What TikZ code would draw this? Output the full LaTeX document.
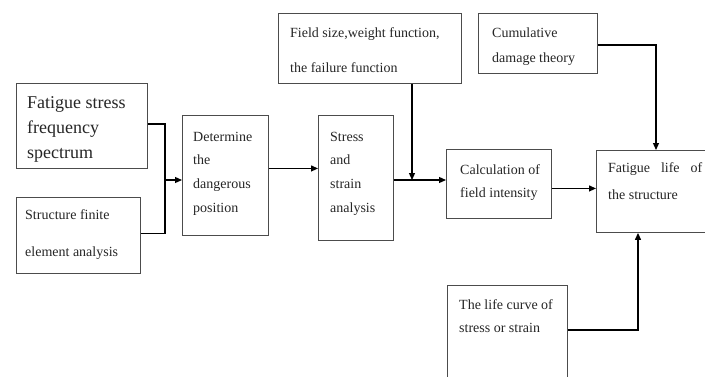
\documentclass[tikz,border=0pt]{standalone}
\usepackage{fontspec}
\setmainfont{Liberation Serif}
\usetikzlibrary{arrows.meta}
\tikzset{
  box/.style={draw=black!70, line width=0.9pt, rectangle, inner sep=0pt, anchor=north west},
  conn/.style={draw=black, line width=1.2pt},
  arr/.style={conn, -{Triangle[length=7pt,width=6pt]}},
  txt/.style={anchor=base west, inner sep=0pt, text=black!85}
}
\newcommand{\fs}[2]{\fontsize{#1}{#2}\selectfont}
\begin{document}
\begin{tikzpicture}[x=1pt,y=-1pt]
\useasboundingbox (0,0) rectangle (705,376);
\clip (0,0) rectangle (705,376);
\fill[white] (0,0) rectangle (705,376);
% boxes
\node[box, minimum width=131pt, minimum height=85pt] (b1) at (16,83) {};
\node[box, minimum width=124pt, minimum height=76pt] (b2) at (16,197) {};
\node[box, minimum width=86pt, minimum height=120pt] (b3) at (182,115) {};
\node[box, minimum width=75pt, minimum height=125pt] (b4) at (318,115) {};
\node[box, minimum width=183pt, minimum height=70pt] (b5) at (278,13) {};
\node[box, minimum width=119pt, minimum height=60pt] (b6) at (478,13) {};
\node[box, minimum width=105pt, minimum height=69pt] (b7) at (446,149) {};
\node[box, minimum width=120pt, minimum height=82pt] (b8) at (596,150) {};
\node[box, minimum width=120pt, minimum height=110pt] (b9) at (447,285) {};
% texts
\node[txt, font=\fs{18}{25}] (t1) at (27,108) {\vtop{\hbox{Fatigue stress}\hbox{frequency}\hbox{spectrum}}};
\node[txt, font=\fs{14}{37}] (t2) at (25,219) {\vtop{\hbox{Structure finite}\hbox{element analysis}}};
\node[txt, font=\fs{14}{23.7}] (t3) at (193,141) {\vtop{\hbox{Determine}\hbox{the}\hbox{dangerous}\hbox{position}}};
\node[txt, font=\fs{14}{23.7}] (t4) at (330,141) {\vtop{\hbox{Stress}\hbox{and}\hbox{strain}\hbox{analysis}}};
\node[txt, font=\fs{14}{35}] (t5) at (290,37) {\vtop{\hbox{Field size,weight function,}\hbox{the failure function}}};
\node[txt, font=\fs{14}{25}] (t6) at (492,37) {\vtop{\hbox{Cumulative}\hbox{damage theory}}};
\node[txt, font=\fs{14}{23}] (t7) at (460,174) {\vtop{\hbox{Calculation of}\hbox{field intensity}}};
\node[txt, font=\fs{14}{27}] (t8) at (608,172) {\vtop{\hbox{\makebox[94pt][s]{Fatigue life of}}\hbox{the structure}}};
\node[txt, font=\fs{14}{23}] (t9) at (459,309) {\vtop{\hbox{The life curve of}\hbox{stress or strain}}};
% junctions
\coordinate (j1) at (165,180);
\coordinate (j2) at (412,180);
\coordinate (j3) at (656,45);
\coordinate (j4) at (638,330);
% connectors
\draw[conn] ([yshift=2pt]b1.east) -| (j1) |- ([yshift=2pt]b2.east);
\draw[arr] (j1) -- (b3.west |- j1);
\draw[arr] ([yshift=7pt]b3.east) -- ([yshift=7pt]b3.east -| b4.west);
\draw[arr] (b4.east |- j2) -- (b7.west |- j2);
\draw[arr] (j2 |- b5.south) -- (j2);
\draw[arr] (b6.east |- j3) -- (j3) -- (j3 |- b8.north);
\draw[arr] ([yshift=-4.5pt]b7.east) -- ([yshift=-4.5pt]b7.east -| b8.west);
\draw[arr] (b9.east |- j4) -- (j4) -- (j4 |- b8.south);
\end{tikzpicture}
\end{document}
